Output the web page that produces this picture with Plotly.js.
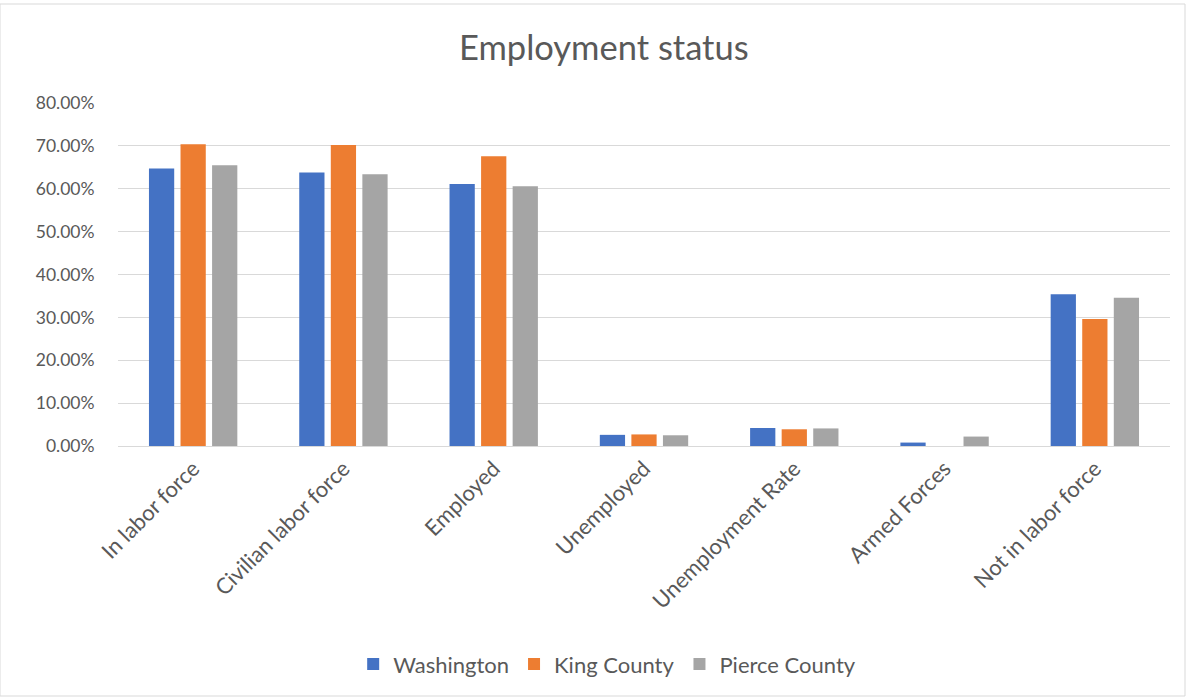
<!DOCTYPE html>
<html><head><meta charset="utf-8">
<script src="https://cdn.plot.ly/plotly-3.0.1.min.js"></script>
<style>html,body{margin:0;padding:0;background:#fff}#chart{width:1191px;height:700px}</style>
</head><body><div id="chart"></div>
<script>
const categories = ["In labor force","Civilian labor force","Employed","Unemployed","Unemployment Rate","Armed Forces","Not in labor force"];
const washington = [0.647,0.638,0.611,0.026,0.042,0.008,0.354];
const kingCounty = [0.704,0.702,0.676,0.027,0.039,0.000,0.296];
const pierceCounty = [0.655,0.634,0.606,0.025,0.041,0.022,0.346];
const seriesNames = ["Washington","King County","Pierce County"];
const colors = ["#4472C4","#ED7D31","#A5A5A5"];
const vals = [washington, kingCounty, pierceCounty];
const font = "Lato, 'Open Sans', sans-serif";
const traces = vals.map((v,i)=>({type:'bar',name:seriesNames[i],x:categories,y:v,marker:{color:colors[i]},hoverinfo:'x+y'}));
const layout = {
  width:1191,height:700,
  paper_bgcolor:'#fff',plot_bgcolor:'#fff',
  margin:{l:118,r:21,t:103,b:254},
  title:{text:'Employment status',font:{family:font,size:34.5,color:'#595959'},x:0.507,xanchor:'center',y:0.931,yanchor:'middle'},
  barmode:'group',bargap:0.37,bargroupgap:0.2,
  xaxis:{tickangle:-45,tickfont:{family:font,size:22,color:'#595959'},showline:true,linecolor:'#d9d9d9',linewidth:1,ticks:''},
  yaxis:{range:[0,0.8],dtick:0.1,tickformat:'.2%',tickfont:{family:font,size:17.5,color:'#595959'},gridcolor:'#d9d9d9',gridwidth:1,zeroline:false,showline:false,ticks:'outside',ticklen:19,tickcolor:'rgba(0,0,0,0)'},
  legend:{orientation:'h',x:0.465,xanchor:'center',y:-0.636,yanchor:'middle',font:{family:font,size:22,color:'#595959'},itemwidth:30,traceorder:'normal'},
  shapes:[{type:'rect',xref:'paper',yref:'paper',x0:-118/1052,x1:1+(21-6)/1052,y0:-(254-4)/343,y1:1+(103-4)/343,line:{color:'#d9d9d9',width:1},fillcolor:'rgba(0,0,0,0)',layer:'below'}]
};
Plotly.newPlot('chart',traces,layout,{displayModeBar:false});
</script></body></html>
